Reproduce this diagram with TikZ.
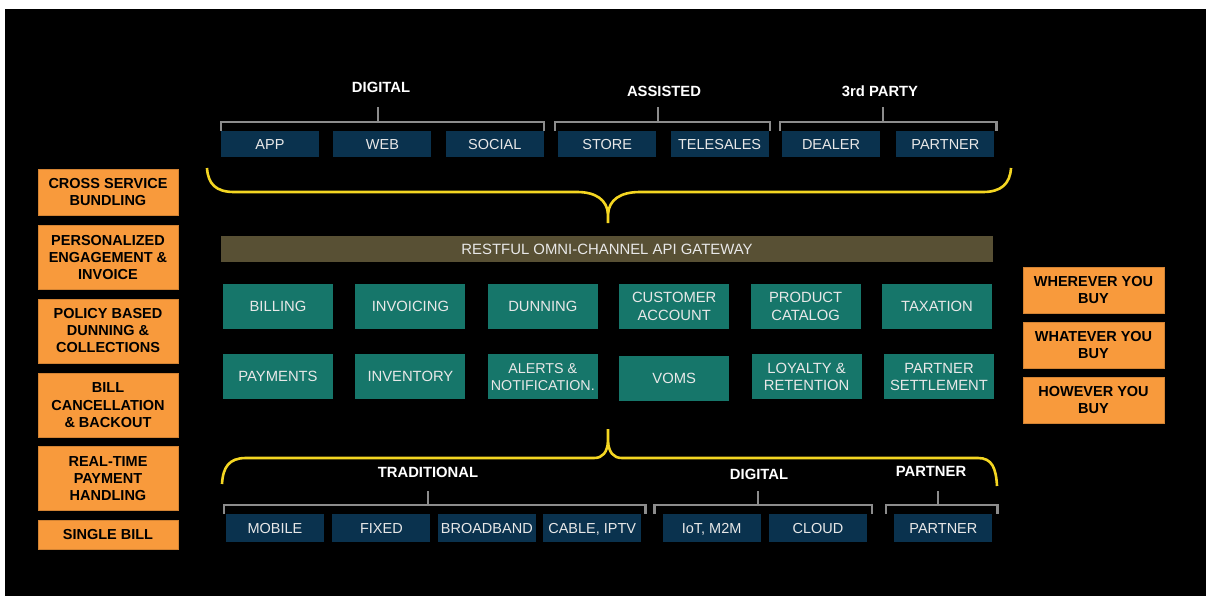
\documentclass[tikz,border=0pt]{standalone}
\usepackage{fontspec}
\setmainfont{Liberation Sans}
\usepackage{tikz}
\usetikzlibrary{positioning}
\usepackage{xcolor}

\definecolor{chnavy}{RGB}{10,50,78}
\definecolor{modteal}{RGB}{22,118,106}
\definecolor{gwolive}{RGB}{88,80,52}
\definecolor{featorange}{RGB}{248,154,60}
\definecolor{braceyellow}{RGB}{244,214,34}
\definecolor{brakgray}{RGB}{140,140,140}
\definecolor{boxtext}{RGB}{232,232,232}

\begin{document}
\begin{tikzpicture}[x=1pt, y=-1pt,
chanbox/.style={rectangle, fill=chnavy, text=boxtext, inner sep=0pt, minimum width=98pt, minimum height=26pt, text height=10.5pt, text depth=0pt, font=\fontsize{14.5}{17}\selectfont},
modbox/.style={rectangle, fill=modteal, text=boxtext, inner sep=0pt, minimum width=110pt, minimum height=45pt, align=center, font=\fontsize{14.8}{17.7}\selectfont},
featbox/.style={rectangle, fill=featorange, draw=featorange!85!black, thin, text=black, inner sep=0pt, minimum width=140pt, minimum height=64pt, align=center, font=\bfseries\fontsize{14.5}{17.2}\selectfont},
gwbar/.style={rectangle, fill=gwolive, text=boxtext, inner sep=0pt, minimum width=772pt, minimum height=26pt, font=\fontsize{14.9}{17}\selectfont},
grplabel/.style={text=white, inner sep=0pt, font=\bfseries\fontsize{14.8}{17}\selectfont},
brak/.style={draw=brakgray, line width=2.4pt},
brace/.style={draw=braceyellow, line width=2.6pt},
]
\useasboundingbox (0,0) rectangle (1206,596);
\fill[white] (0,0) rectangle (1206,596);
\fill[black] (5,9) rectangle (1206,596);

%Channels
\node[chanbox] (APP) at (270,144) {APP};
\node[chanbox] (WEB) [right=14pt of APP] {WEB};
\node[chanbox] (SOC) [right=14pt of WEB] {SOCIAL};
\node[chanbox] (STO) [right=14pt of SOC] {STORE};
\node[chanbox] (TEL) [right=14pt of STO] {TELESALES};
\node[chanbox] (DEA) [right=13pt of TEL] {DEALER};
\node[chanbox] (PAR) [right=16pt of DEA] {PARTNER};

\node[grplabel] (DIGL) at (381,87) {DIGITAL};
\node[grplabel] (ASSL) at (664,91) {ASSISTED};
\node[grplabel] (THPL) at (880,91) {3rd PARTY};
\coordinate (DIGT) at (378,107);
\coordinate (ASST) at (658,107);
\coordinate (THPT) at (883,107);

\draw[brak] (APP.north west) -- ++(0,-9) -| (SOC.north east);
\draw[brak] ([xshift=-3pt]STO.north west) -- ++(0,-9) -| ([xshift=1pt]TEL.north east);
\draw[brak] ([xshift=-2pt]DEA.north west) -- ++(0,-9) -| ([xshift=2pt]PAR.north east);
\draw[brak] (DIGT) -- ++(0,15);
\draw[brak] (ASST) -- ++(0,15);
\draw[brak] (THPT) -- ++(0,15);

%Upper brace
\draw[brace] (207,168) .. controls (208,184) and (216,192) .. (234,192) -- (577,192)
  .. controls (596,192) and (607,200) .. (608,214) -- (608,223);
\draw[brace] (608,214) .. controls (609,200) and (620,192) .. (640,192) -- (983,192)
  .. controls (1001,192) and (1010,184) .. (1011,168);

%Gateway
\node[gwbar] (GW) at (607,249) {RESTFUL OMNI-CHANNEL API GATEWAY};

%Modules
\node[modbox] (BIL) at (278,306.5) {BILLING};
\node[modbox] (INV) [right=22pt of BIL] {INVOICING};
\node[modbox] (DUN) [right=22pt of INV] {DUNNING};
\node[modbox] (CUS) [right=21pt of DUN] {CUSTOMER\\ACCOUNT};
\node[modbox] (PRO) [right=21pt of CUS] {PRODUCT\\CATALOG};
\node[modbox] (TAX) [right=21pt of PRO] {TAXATION};

\node[modbox] (PAY) [below=25pt of BIL] {PAYMENTS};
\node[modbox] (INT) [right=22pt of PAY] {INVENTORY};
\node[modbox, font=\fontsize{14.3}{17.5}\selectfont] (ALE) [right=22pt of INT] {ALERTS \&\\NOTIFICATION.};
\node[modbox] (VOM) [right=21pt of ALE, yshift=-2pt] {VOMS};
\node[modbox] (LOY) [right=22pt of VOM, yshift=2pt] {LOYALTY \&\\RETENTION};
\node[modbox] (PSE) [right=22pt of LOY] {PARTNER\\SETTLEMENT};

%Lower brace
\draw[brace] (222,484) .. controls (223,467) and (229,458) .. (246,458) -- (594,458)
  .. controls (603,458) and (607,452) .. (608,442) -- (608,429);
\draw[brace] (608,442) .. controls (609,452) and (613,458) .. (622,458) -- (978,458)
  .. controls (992,458) and (996,468) .. (997,486);

%Networks
\node[chanbox, minimum height=28pt] (MOB) at (275,528) {MOBILE};
\node[chanbox, minimum height=28pt] (FIX) [right=8pt of MOB] {FIXED};
\node[chanbox, minimum height=28pt] (BRO) [right=7pt of FIX] {BROADBAND};
\node[chanbox, minimum height=28pt] (CAB) [right=7pt of BRO] {CABLE, IPTV};
\node[chanbox, minimum height=28pt] (IOT) [right=21pt of CAB] {IoT, M2M};
\node[chanbox, minimum height=28pt] (CLO) [right=8pt of IOT] {CLOUD};
\node[chanbox, minimum height=28pt] (BPA) [right=27pt of CLO] {PARTNER};

\node[grplabel] (TRAL) at (428,472) {TRADITIONAL};
\node[grplabel] (NDGL) at (759,474) {DIGITAL};
\node[grplabel] (NPAL) at (931,471) {PARTNER};
\coordinate (TRAT) at (428,491);
\coordinate (NDGT) at (758,491);
\coordinate (NPAT) at (938,491);

\draw[brak] ([xshift=-2pt]MOB.north west) -- ++(0,-9) -| ([xshift=4pt]CAB.north east);
\draw[brak] ([xshift=-8pt]IOT.north west) -- ++(0,-9) -| ([xshift=5pt]CLO.north east);
\draw[brak] ([xshift=-8pt]BPA.north west) -- ++(0,-9) -| ([xshift=5pt]BPA.north east);
\draw[brak] (TRAT) -- ++(0,14);
\draw[brak] (NDGT) -- ++(0,14);
\draw[brak] (NPAT) -- ++(0,14);

%Features left
\node[featbox, minimum height=46pt] (CSB) at (108,192) {CROSS SERVICE\\BUNDLING};
\node[featbox] (PEI) [below=10pt of CSB] {PERSONALIZED\\ENGAGEMENT \&\\INVOICE};
\node[featbox] (PBD) [below=9pt of PEI] {POLICY BASED\\DUNNING \&\\COLLECTIONS};
\node[featbox] (BCB) [below=10pt of PBD] {BILL\\CANCELLATION\\\& BACKOUT};
\node[featbox] (RTP) [below=9pt of BCB] {REAL-TIME\\PAYMENT\\HANDLING};
\node[featbox, minimum height=29pt] (SGB) [below=9pt of RTP] {SINGLE BILL};

%Features right
\node[featbox, minimum width=141pt, minimum height=46pt] (WHE) at (1093.5,290) {WHEREVER YOU\\BUY};
\node[featbox, minimum width=141pt, minimum height=46pt] (WHA) [below=9pt of WHE] {WHATEVER YOU\\BUY};
\node[featbox, minimum width=141pt, minimum height=46pt] (HOW) [below=8pt of WHA] {HOWEVER YOU\\BUY};
\end{tikzpicture}
\end{document}
